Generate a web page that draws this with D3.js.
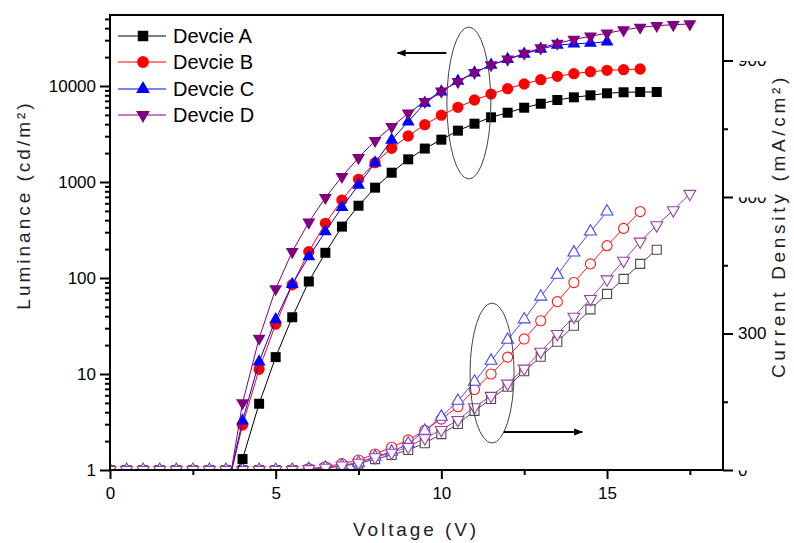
<!DOCTYPE html>
<html>
<head>
<meta charset="utf-8">
<script src="https://cdn.jsdelivr.net/npm/d3@7/dist/d3.min.js"></script>
<style>
  html, body { margin: 0; padding: 0; background: #fff; }
  svg { display: block; }
  text { font-family: "Liberation Sans", Arial, sans-serif; }
</style>
</head>
<body>
<svg id="chart" width="794" height="543"></svg>
<script>
// Applied voltage (V), 0.5 V steps
const voltages = [0, 0.5, 1, 1.5, 2, 2.5, 3, 3.5, 4, 4.5, 5, 5.5, 6, 6.5, 7, 7.5, 8, 8.5,
                  9, 9.5, 10, 10.5, 11, 11.5, 12, 12.5, 13, 13.5, 14, 14.5, 15, 15.5, 16, 16.5, 17, 17.5];

// Luminance (cd/m^2); null = not measured
const lumA = [null, null, null, null, null, null, null, 0.55, 1.3, 4.9, 15, 39, 92, 183, 343, 566, 873, 1250,
              1722, 2230, 2760, 3425, 4050, 4720, 5270, 5940, 6540, 7150, 7620, 8000, 8400, 8600, 8660, 8660, null, null];
const lumB = [null, null, null, null, null, null, null, 0.55, 2.94, 11.2, 33, 85, 188, 371, 649, 1067, 1589, 2243,
              3013, 3950, 4970, 6000, 7150, 8250, 9370, 10490, 11630, 12620, 13430, 14090, 14560, 14790, 15030, null, null, null];
const lumC = [null, null, null, null, null, null, null, 0.55, 3.26, 13.4, 37, 86, 167, 304, 545, 930, 1589, 2738,
              4250, 6650, 8730, 11270, 13770, 16550, 18970, 21530, 24270, 26700, 27500, 28000, 28900, null, null, null, null, null];
const lumD = [null, null, null, null, null, null, null, 0.45, 5.0, 23.5, 77, 188, 380, 687, 1137, 1790, 2697, 3770,
              5190, 6870, 8800, 11090, 13770, 16550, 18970, 21880, 24880, 27800, 30500, 33000, 35500, 38300, 40800, 42500, 43500, 44300];

// Current density (mA/cm^2)
const curA = [0, 0, 0, 0, 0, 0, 0, 0, 0, 0, 0, 0, 1, 4, 9, 14, 24, 33,
              44, 59, 79, 101, 130, 156, 183, 217, 249, 282, 317, 353, 387, 420, 453, 484, null, null];
const curB = [0, 0, 0, 0, 0, 0, 0, 0, 0, 0, 0, 0, 3, 7, 14, 22, 35, 50,
              66, 87, 112, 139, 177, 211, 248, 288, 328, 370, 412, 453, 493, 531, 568, null, null, null];
const curC = [0, 0, 0, 0, 0, 0, 0, 0, 0, 0, 0, 0, 2, 5, 10, 16, 29, 40,
              58, 86, 117, 152, 194, 240, 286, 331, 381, 429, 478, 524, 568, null, null, null, null, null];
const curD = [0, 0, 0, 0, 0, 0, 0, 0, 0, 0, 0, 0, 2, 5, 10, 16, 28, 38,
              51, 70, 88, 110, 138, 163, 190, 223, 260, 299, 337, 376, 419, 460, 502, 538, 571, 607];

const deviceNames = ["Devcie A", "Devcie B", "Devcie C", "Devcie D"];

// Axis ticks
const xMajorTicks = [0, 5, 10, 15];
const xMinorTicks = [2.5, 7.5, 12.5, 17.5];
const lumMajorTicks = [1, 10, 100, 1000, 10000];
const curMajorTicks = [0, 300, 600, 900];
const curMinorTicks = [150, 450, 750];

// ---------- layout ----------
const plot = { left: 110, right: 723, top: 15, bottom: 470 };
const svg = d3.select("#chart");

const x = d3.scaleLinear().domain([0, 18.5]).range([plot.left, plot.right]);
const yL = d3.scaleLog().domain([1, 54900]).range([plot.bottom, plot.top]);
const yR = d3.scaleLinear().domain([0, 1000]).range([plot.bottom, plot.top]);

const styles = [
  { fill: "#000000", open: "#4a4a4a", symbol: d3.symbolSquare,   size: 100, osize: 82, rot: 0 },
  { fill: "#ff0000", open: "#ff1a1a", symbol: d3.symbolCircle,   size: 100, osize: 80, rot: 0 },
  { fill: "#0000ff", open: "#4646ff", symbol: d3.symbolTriangle, size: 72,  osize: 62, rot: 0 },
  { fill: "#800080", open: "#9a3fa6", symbol: d3.symbolTriangle, size: 72,  osize: 62, rot: 180 }
];

const defs = svg.append("defs");
defs.append("clipPath").attr("id", "plotClip")
  .append("rect")
  .attr("x", plot.left).attr("y", plot.top)
  .attr("width", plot.right - plot.left).attr("height", plot.bottom - plot.top);
// band that trims the right-hand tick labels
defs.append("clipPath").attr("id", "rightLabelClip")
  .append("rect").attr("x", 0).attr("y", 0).attr("width", 762).attr("height", 543);

const toPoints = vals => voltages.map((v, i) => ({ v, y: vals[i] })).filter(d => d.y != null);

const lumSeries = [lumA, lumB, lumC, lumD].map(toPoints);
const curSeries = [curA, curB, curC, curD].map(toPoints);

const dataLayer = svg.append("g").attr("clip-path", "url(#plotClip)");

// current density curves (open markers, right axis)
curSeries.forEach((pts, k) => {
  const st = styles[k];
  const line = d3.line().x(d => x(d.v)).y(d => yR(d.y));
  dataLayer.append("path").datum(pts)
    .attr("d", line).attr("fill", "none")
    .attr("stroke", st.open).attr("stroke-width", 1);
  dataLayer.append("g").selectAll("path").data(pts).join("path")
    .attr("d", d3.symbol().type(st.symbol).size(st.osize))
    .attr("transform", d => `translate(${x(d.v)},${yR(d.y)}) rotate(${st.rot})`)
    .attr("fill", "#fff").attr("stroke", st.open).attr("stroke-width", 1.1);
});

// luminance curves (filled markers, left axis)
lumSeries.forEach((pts, k) => {
  const st = styles[k];
  const line = d3.line().x(d => x(d.v)).y(d => yL(d.y));
  dataLayer.append("path").datum(pts)
    .attr("d", line).attr("fill", "none")
    .attr("stroke", st.fill).attr("stroke-width", 1);
  dataLayer.append("g").selectAll("path").data(pts.filter(d => d.y >= 1)).join("path")
    .attr("d", d3.symbol().type(st.symbol).size(st.size))
    .attr("transform", d => `translate(${x(d.v)},${yL(d.y)}) rotate(${st.rot})`)
    .attr("fill", st.fill);
});

// ---------- axes ----------
const fmt = d3.format("d");

// bottom
svg.append("g").attr("transform", `translate(0,${plot.bottom})`)
  .call(d3.axisBottom(x).tickValues(xMajorTicks).tickSize(9).tickPadding(8).tickFormat(fmt));
svg.append("g").attr("transform", `translate(0,${plot.bottom})`)
  .call(d3.axisBottom(x).tickValues(xMinorTicks).tickSize(5).tickFormat(""));

// left (log)
const lumMinor = [];
for (let d = 0; d <= 4; d++) {
  for (let k = 2; k <= 9; k++) {
    const v = k * Math.pow(10, d);
    if (v <= yL.domain()[1]) lumMinor.push(v);
  }
}
svg.append("g").attr("transform", `translate(${plot.left},0)`)
  .call(d3.axisLeft(yL).tickValues(lumMajorTicks).tickSize(10).tickPadding(4).tickFormat(fmt));
svg.append("g").attr("transform", `translate(${plot.left},0)`)
  .call(d3.axisLeft(yL).tickValues(lumMinor).tickSize(5).tickFormat(""));

// right
const rightAxis = svg.append("g").attr("transform", `translate(${plot.right},0)`)
  .call(d3.axisRight(yR).tickValues(curMajorTicks).tickSize(10).tickPadding(5).tickFormat(fmt));
svg.append("g").attr("transform", `translate(${plot.right},0)`)
  .call(d3.axisRight(yR).tickValues(curMinorTicks).tickSize(5).tickFormat(""));
rightAxis.selectAll(".tick").filter(d => d !== 300).select("text").attr("clip-path", "url(#rightLabelClip)");

svg.selectAll(".domain").remove();
svg.selectAll(".tick line").attr("stroke", "#000").attr("stroke-width", 2);
svg.selectAll(".tick text").attr("font-size", 17).attr("fill", "#000")
  .style("font-family", '"Liberation Sans", Arial, sans-serif');

// frame
svg.append("rect")
  .attr("x", plot.left).attr("y", plot.top)
  .attr("width", plot.right - plot.left).attr("height", plot.bottom - plot.top)
  .attr("fill", "none").attr("stroke", "#000").attr("stroke-width", 2);

// ---------- axis titles ----------
svg.append("text")
  .attr("x", 416).attr("y", 536)
  .attr("text-anchor", "middle").attr("font-size", 19).attr("letter-spacing", 2.9)
  .attr("fill", "#222").text("Voltage (V)");

svg.append("text")
  .attr("transform", "translate(30,205) rotate(-90)")
  .attr("text-anchor", "middle").attr("font-size", 19).attr("letter-spacing", 3.0)
  .attr("fill", "#222")
  .text("Luminance (cd/m²)");

svg.append("text")
  .attr("transform", "translate(785,226) rotate(-90)")
  .attr("text-anchor", "middle").attr("font-size", 19).attr("letter-spacing", 3.7)
  .attr("fill", "#222")
  .text("Current Density (mA/cm²)");

// ---------- legend ----------
const legend = svg.append("g");
const legendRows = [36, 62, 89, 115];
deviceNames.forEach((name, k) => {
  const st = styles[k];
  const g = legend.append("g").attr("transform", `translate(0,${legendRows[k]})`);
  g.append("line").attr("x1", 118).attr("x2", 166).attr("y1", 0).attr("y2", 0)
    .attr("stroke", st.fill).attr("stroke-width", 1);
  g.append("path")
    .attr("d", d3.symbol().type(st.symbol).size(st.size + 10))
    .attr("transform", `translate(143,0) rotate(${st.rot})`)
    .attr("fill", st.fill);
  g.append("text").attr("x", 173).attr("y", 7)
    .attr("font-size", 20).attr("fill", "#000").text(name);
});

// ---------- group markers: ellipses with arrows pointing at each axis ----------
defs.append("marker").attr("id", "arrowHead")
  .attr("viewBox", "0 0 10 10").attr("refX", 9).attr("refY", 5)
  .attr("markerWidth", 6).attr("markerHeight", 4.5).attr("orient", "auto")
  .attr("markerUnits", "strokeWidth")
  .append("path").attr("d", "M0,1 L10,5 L0,9 Z").attr("fill", "#000");

const notes = [
  { cx: 10.83, cy: yL(6650), rx: 22, ry: 76, from: 10.15, to: 8.68, ay: yL(22080) },
  { cx: 11.53, cy: yR(213),  rx: 22, ry: 70, from: 11.88, to: 14.25, ay: yR(83.5) }
];
notes.forEach(n => {
  svg.append("ellipse")
    .attr("cx", x(n.cx)).attr("cy", n.cy).attr("rx", n.rx).attr("ry", n.ry)
    .attr("fill", "none").attr("stroke", "#444").attr("stroke-width", 1);
  svg.append("line")
    .attr("x1", x(n.from)).attr("x2", x(n.to)).attr("y1", n.ay).attr("y2", n.ay)
    .attr("stroke", "#000").attr("stroke-width", 2)
    .attr("marker-end", "url(#arrowHead)");
});
</script>
</body>
</html>
